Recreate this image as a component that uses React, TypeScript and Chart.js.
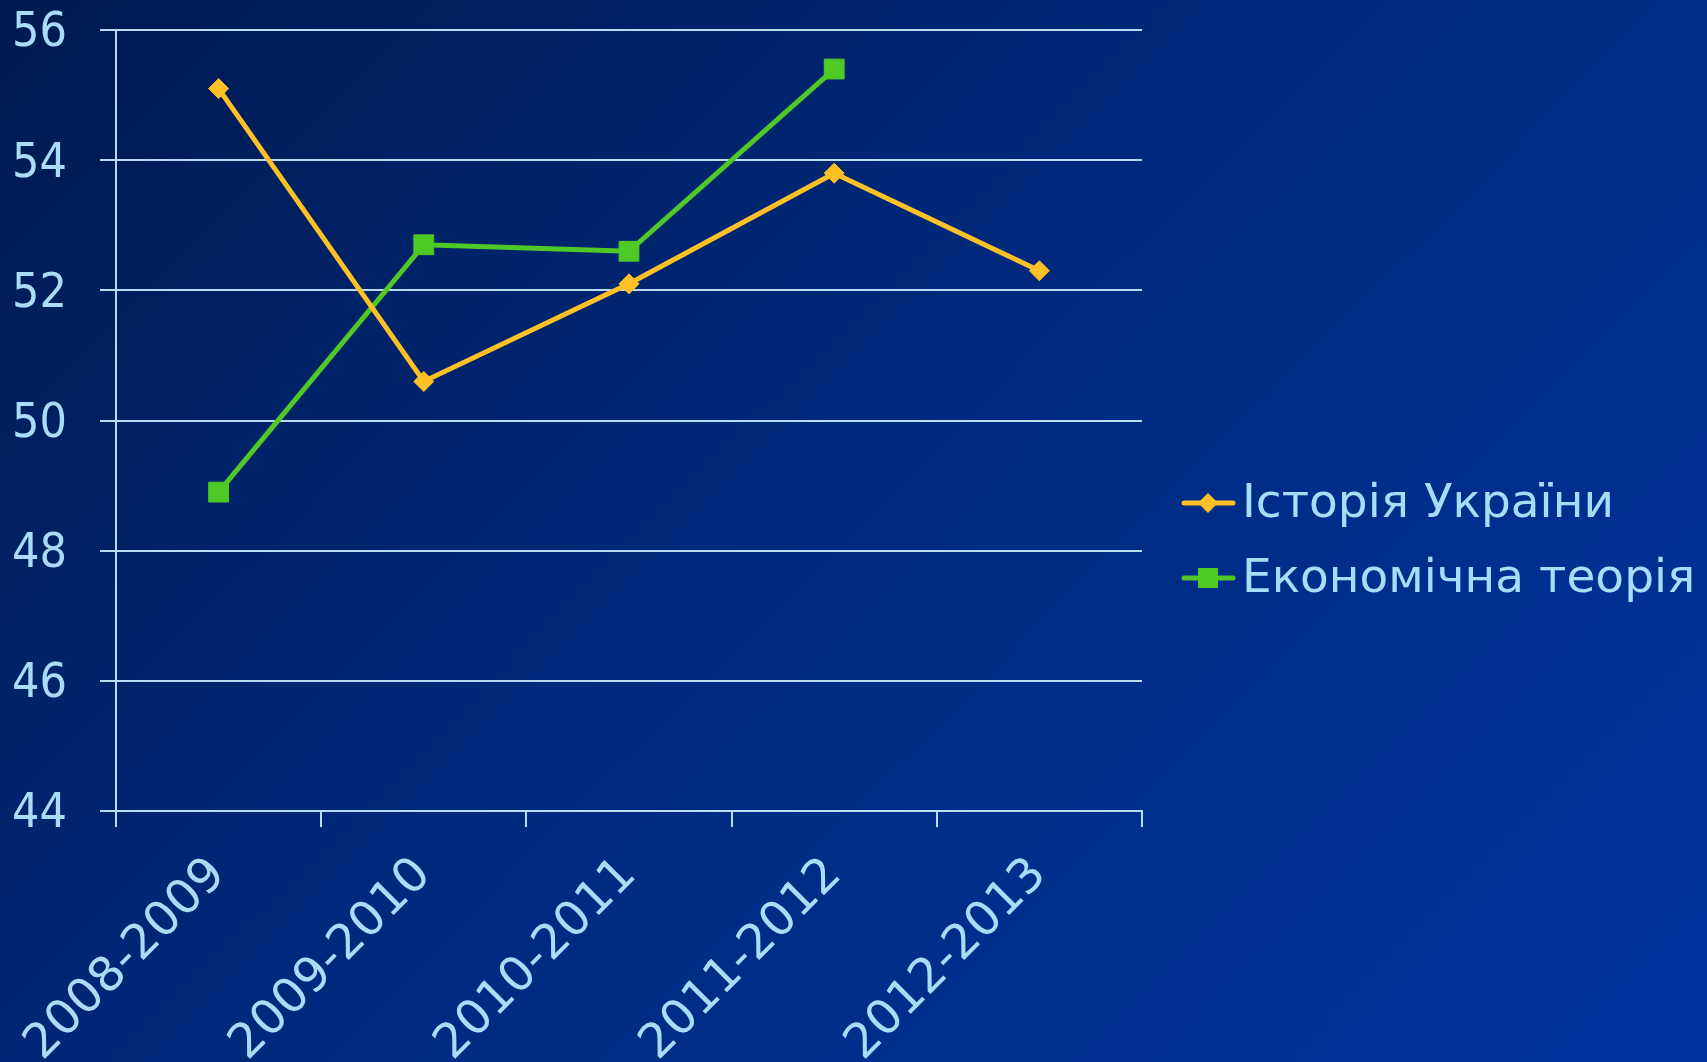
import React, { useEffect, useRef } from "react";
import { Chart, registerables } from "chart.js";

Chart.register(...registerables);

const categories = ["2008-2009", "2009-2010", "2010-2011", "2011-2012", "2012-2013"];
const historyValues = [55.1, 50.6, 52.1, 53.8, 52.3];
const economicsValues = [48.9, 52.7, 52.6, 55.4, null];
const seriesNames = ["Історія України", "Економічна теорія"];
const yMin = 44;
const yMax = 56;
const yStep = 2;

const FONT = "'DejaVu Sans', sans-serif";
const FONT_NUM = "'DejaVu Sans Condensed', 'DejaVu Sans', sans-serif";
const TEXT = "#a9dcf7";
const GRID = "#b8dcf2";
const YELLOW = "#fdc025";
const GREEN = "#4fc926";

const legendPlugin = {
  id: "customLegend",
  afterDraw(chart: any) {
    const ctx = chart.ctx;
    const datasets = chart.data.datasets;
    const x0 = chart.chartArea.right + 40;
    const rowY = [503, 578];
    ctx.save();
    datasets.forEach((ds: any, i: number) => {
      const y = rowY[i];
      ctx.strokeStyle = ds.borderColor;
      ctx.lineWidth = 5;
      ctx.lineCap = "round";
      ctx.beginPath();
      ctx.moveTo(x0 + 2, y);
      ctx.lineTo(x0 + 51, y);
      ctx.stroke();
      ctx.fillStyle = ds.pointBackgroundColor;
      const cx = x0 + 26;
      if (ds.pointStyle === "rectRot") {
        const r = 10;
        ctx.beginPath();
        ctx.moveTo(cx - r, y);
        ctx.lineTo(cx, y - r);
        ctx.lineTo(cx + r, y);
        ctx.lineTo(cx, y + r);
        ctx.closePath();
        ctx.fill();
      } else {
        ctx.fillRect(cx - 10, y - 10, 20, 20);
      }
      ctx.fillStyle = TEXT;
      ctx.font = `47px ${FONT}`;
      ctx.textBaseline = "middle";
      ctx.textAlign = "left";
      ctx.fillText(ds.label, x0 + 60, y + 2);
    });
    ctx.restore();
  },
};

export default function App() {
  const ref = useRef<HTMLCanvasElement | null>(null);

  useEffect(() => {
    document.body.style.margin = "0";
    const canvas = ref.current!;
    const chart = new Chart(canvas, {
      type: "line",
      data: {
        labels: categories,
        datasets: [
          {
            label: seriesNames[0],
            data: historyValues,
            borderColor: YELLOW,
            backgroundColor: YELLOW,
            pointBackgroundColor: YELLOW,
            pointBorderColor: YELLOW,
            pointStyle: "rectRot",
            pointRadius: 10,
            pointBorderWidth: 1,
            borderWidth: 5,
            tension: 0,
            spanGaps: false,
          },
          {
            label: seriesNames[1],
            data: economicsValues,
            borderColor: GREEN,
            backgroundColor: GREEN,
            pointBackgroundColor: GREEN,
            pointBorderColor: GREEN,
            pointStyle: "rect",
            pointRadius: 14,
            pointBorderWidth: 1,
            borderWidth: 5,
            tension: 0,
            spanGaps: false,
          },
        ],
      },
      options: {
        animation: false,
        responsive: false,
        maintainAspectRatio: false,
        layout: { padding: { left: 0, right: 565, top: 30, bottom: 0 } },
        plugins: {
          legend: { display: false },
          tooltip: { enabled: false },
        },
        scales: {
          x: {
            type: "category",
            offset: true,
            grid: {
              offset: true,
              drawOnChartArea: false,
              drawTicks: true,
              tickLength: 16,
              color: GRID,
              lineWidth: 2,
            },
            border: { display: true, color: GRID, width: 2 },
            ticks: {
              color: TEXT,
              font: { family: FONT, size: 48 },
              minRotation: 45,
              maxRotation: 45,
              padding: 20,
              autoSkip: false,
            },
            afterFit(scale: any) {
              scale.height = 251;
              scale.paddingTop = 0;
              scale.paddingBottom = 0;
            },
          },
          y: {
            min: yMin,
            max: yMax,
            ticks: {
              stepSize: yStep,
              color: TEXT,
              font: { family: FONT_NUM, size: 48 },
              padding: 33,
              labelOffset: 4,
            },
            grid: {
              color: GRID,
              lineWidth: 2,
              tickLength: 16,
              drawTicks: true,
            },
            border: { display: true, color: GRID, width: 2 },
            afterFit(scale: any) {
              scale.width = 116;
              scale.paddingTop = 0;
              scale.paddingBottom = 0;
            },
          },
        },
      },
      plugins: [legendPlugin],
    } as any);
    return () => chart.destroy();
  }, []);

  return (
    <div
      style={{
        position: "fixed",
        left: 0,
        top: 0,
        width: 1707,
        height: 1062,
        background: "linear-gradient(135deg, #001a4f 0%, #002a80 50%, #00349e 100%)",
      }}
    >
      <canvas ref={ref} width={1707} height={1062} style={{ display: "block" }} />
    </div>
  );
}
